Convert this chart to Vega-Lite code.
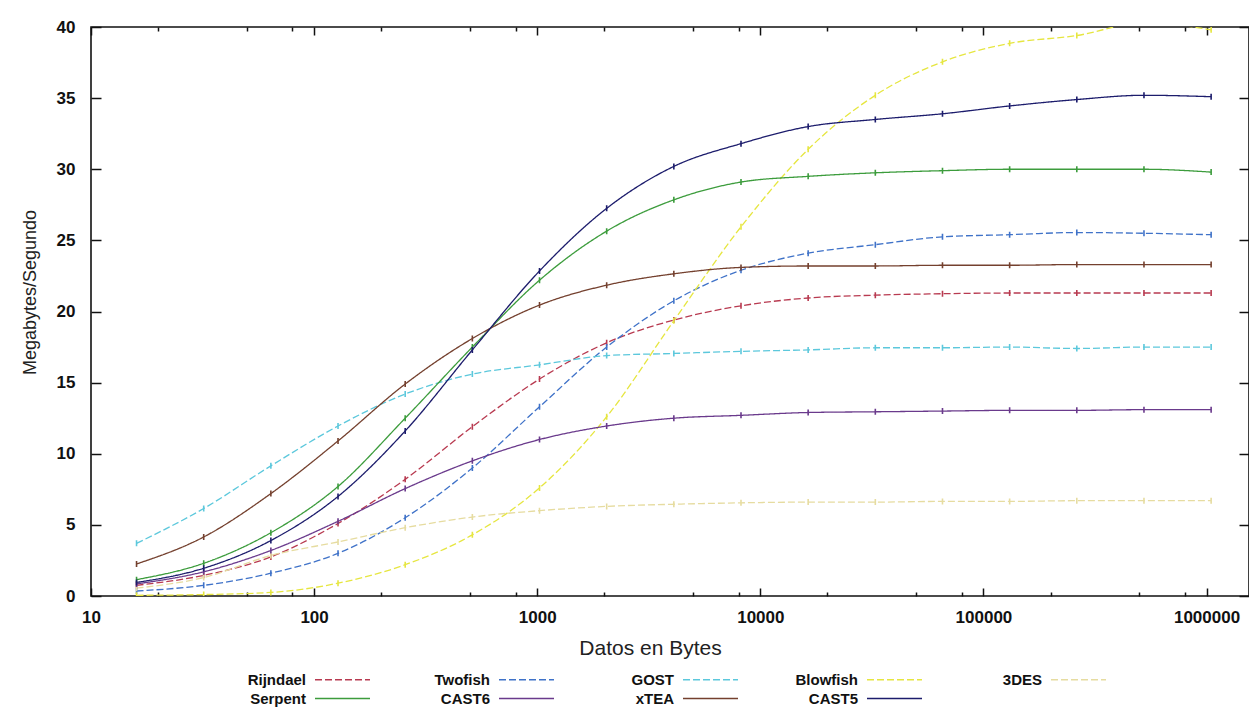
{
  "$schema": "https://vega.github.io/schema/vega-lite/v6.json",
  "width": 1158,
  "height": 569,
  "autosize": "none",
  "padding": {"left": 91, "top": 27, "right": 0, "bottom": 112},
  "background": "white",
  "config": {
    "view": {"stroke": "#111", "strokeWidth": 1.6},
    "font": "Liberation Sans, Arial, sans-serif"
  },
  "datasets": {
    "rows": [
      {"alg":"Rijndael","bytes":16,"mbs":0.75},{"alg":"Rijndael","bytes":32,"mbs":1.45},{"alg":"Rijndael","bytes":64,"mbs":2.75},{"alg":"Rijndael","bytes":128,"mbs":5.1},{"alg":"Rijndael","bytes":256,"mbs":8.2},{"alg":"Rijndael","bytes":512,"mbs":11.9},{"alg":"Rijndael","bytes":1024,"mbs":15.25},{"alg":"Rijndael","bytes":2048,"mbs":17.8},{"alg":"Rijndael","bytes":4096,"mbs":19.4},{"alg":"Rijndael","bytes":8192,"mbs":20.4},{"alg":"Rijndael","bytes":16384,"mbs":20.95},{"alg":"Rijndael","bytes":32768,"mbs":21.15},{"alg":"Rijndael","bytes":65536,"mbs":21.25},{"alg":"Rijndael","bytes":131072,"mbs":21.3},{"alg":"Rijndael","bytes":262144,"mbs":21.3},{"alg":"Rijndael","bytes":524288,"mbs":21.3},{"alg":"Rijndael","bytes":1048576,"mbs":21.3},
      {"alg":"Twofish","bytes":16,"mbs":0.35},{"alg":"Twofish","bytes":32,"mbs":0.75},{"alg":"Twofish","bytes":64,"mbs":1.6},{"alg":"Twofish","bytes":128,"mbs":3.0},{"alg":"Twofish","bytes":256,"mbs":5.5},{"alg":"Twofish","bytes":512,"mbs":9.0},{"alg":"Twofish","bytes":1024,"mbs":13.3},{"alg":"Twofish","bytes":2048,"mbs":17.5},{"alg":"Twofish","bytes":4096,"mbs":20.75},{"alg":"Twofish","bytes":8192,"mbs":22.9},{"alg":"Twofish","bytes":16384,"mbs":24.1},{"alg":"Twofish","bytes":32768,"mbs":24.7},{"alg":"Twofish","bytes":65536,"mbs":25.25},{"alg":"Twofish","bytes":131072,"mbs":25.4},{"alg":"Twofish","bytes":262144,"mbs":25.55},{"alg":"Twofish","bytes":524288,"mbs":25.5},{"alg":"Twofish","bytes":1048576,"mbs":25.4},
      {"alg":"GOST","bytes":16,"mbs":3.7},{"alg":"GOST","bytes":32,"mbs":6.15},{"alg":"GOST","bytes":64,"mbs":9.15},{"alg":"GOST","bytes":128,"mbs":11.95},{"alg":"GOST","bytes":256,"mbs":14.2},{"alg":"GOST","bytes":512,"mbs":15.6},{"alg":"GOST","bytes":1024,"mbs":16.25},{"alg":"GOST","bytes":2048,"mbs":16.9},{"alg":"GOST","bytes":4096,"mbs":17.05},{"alg":"GOST","bytes":8192,"mbs":17.2},{"alg":"GOST","bytes":16384,"mbs":17.3},{"alg":"GOST","bytes":32768,"mbs":17.45},{"alg":"GOST","bytes":65536,"mbs":17.45},{"alg":"GOST","bytes":131072,"mbs":17.5},{"alg":"GOST","bytes":262144,"mbs":17.4},{"alg":"GOST","bytes":524288,"mbs":17.5},{"alg":"GOST","bytes":1048576,"mbs":17.5},
      {"alg":"Blowfish","bytes":16,"mbs":0.05},{"alg":"Blowfish","bytes":32,"mbs":0.1},{"alg":"Blowfish","bytes":64,"mbs":0.25},{"alg":"Blowfish","bytes":128,"mbs":0.9},{"alg":"Blowfish","bytes":256,"mbs":2.2},{"alg":"Blowfish","bytes":512,"mbs":4.3},{"alg":"Blowfish","bytes":1024,"mbs":7.6},{"alg":"Blowfish","bytes":2048,"mbs":12.6},{"alg":"Blowfish","bytes":4096,"mbs":19.35},{"alg":"Blowfish","bytes":8192,"mbs":25.95},{"alg":"Blowfish","bytes":16384,"mbs":31.4},{"alg":"Blowfish","bytes":32768,"mbs":35.2},{"alg":"Blowfish","bytes":65536,"mbs":37.55},{"alg":"Blowfish","bytes":131072,"mbs":38.85},{"alg":"Blowfish","bytes":262144,"mbs":39.4},{"alg":"Blowfish","bytes":524288,"mbs":40.3},{"alg":"Blowfish","bytes":1048576,"mbs":39.8},
      {"alg":"3DES","bytes":16,"mbs":0.55},{"alg":"3DES","bytes":32,"mbs":1.3},{"alg":"3DES","bytes":64,"mbs":2.85},{"alg":"3DES","bytes":128,"mbs":3.8},{"alg":"3DES","bytes":256,"mbs":4.8},{"alg":"3DES","bytes":512,"mbs":5.55},{"alg":"3DES","bytes":1024,"mbs":6.0},{"alg":"3DES","bytes":2048,"mbs":6.3},{"alg":"3DES","bytes":4096,"mbs":6.45},{"alg":"3DES","bytes":8192,"mbs":6.55},{"alg":"3DES","bytes":16384,"mbs":6.6},{"alg":"3DES","bytes":32768,"mbs":6.6},{"alg":"3DES","bytes":65536,"mbs":6.65},{"alg":"3DES","bytes":131072,"mbs":6.65},{"alg":"3DES","bytes":262144,"mbs":6.7},{"alg":"3DES","bytes":524288,"mbs":6.7},{"alg":"3DES","bytes":1048576,"mbs":6.7},
      {"alg":"Serpent","bytes":16,"mbs":1.15},{"alg":"Serpent","bytes":32,"mbs":2.3},{"alg":"Serpent","bytes":64,"mbs":4.45},{"alg":"Serpent","bytes":128,"mbs":7.7},{"alg":"Serpent","bytes":256,"mbs":12.5},{"alg":"Serpent","bytes":512,"mbs":17.5},{"alg":"Serpent","bytes":1024,"mbs":22.2},{"alg":"Serpent","bytes":2048,"mbs":25.65},{"alg":"Serpent","bytes":4096,"mbs":27.85},{"alg":"Serpent","bytes":8192,"mbs":29.1},{"alg":"Serpent","bytes":16384,"mbs":29.5},{"alg":"Serpent","bytes":32768,"mbs":29.75},{"alg":"Serpent","bytes":65536,"mbs":29.9},{"alg":"Serpent","bytes":131072,"mbs":30.0},{"alg":"Serpent","bytes":262144,"mbs":30.0},{"alg":"Serpent","bytes":524288,"mbs":30.0},{"alg":"Serpent","bytes":1048576,"mbs":29.8},
      {"alg":"CAST6","bytes":16,"mbs":0.85},{"alg":"CAST6","bytes":32,"mbs":1.7},{"alg":"CAST6","bytes":64,"mbs":3.2},{"alg":"CAST6","bytes":128,"mbs":5.25},{"alg":"CAST6","bytes":256,"mbs":7.55},{"alg":"CAST6","bytes":512,"mbs":9.5},{"alg":"CAST6","bytes":1024,"mbs":11.0},{"alg":"CAST6","bytes":2048,"mbs":11.95},{"alg":"CAST6","bytes":4096,"mbs":12.5},{"alg":"CAST6","bytes":8192,"mbs":12.7},{"alg":"CAST6","bytes":16384,"mbs":12.9},{"alg":"CAST6","bytes":32768,"mbs":12.95},{"alg":"CAST6","bytes":65536,"mbs":13.0},{"alg":"CAST6","bytes":131072,"mbs":13.05},{"alg":"CAST6","bytes":262144,"mbs":13.05},{"alg":"CAST6","bytes":524288,"mbs":13.1},{"alg":"CAST6","bytes":1048576,"mbs":13.1},
      {"alg":"xTEA","bytes":16,"mbs":2.25},{"alg":"xTEA","bytes":32,"mbs":4.15},{"alg":"xTEA","bytes":64,"mbs":7.2},{"alg":"xTEA","bytes":128,"mbs":10.9},{"alg":"xTEA","bytes":256,"mbs":14.9},{"alg":"xTEA","bytes":512,"mbs":18.1},{"alg":"xTEA","bytes":1024,"mbs":20.45},{"alg":"xTEA","bytes":2048,"mbs":21.85},{"alg":"xTEA","bytes":4096,"mbs":22.65},{"alg":"xTEA","bytes":8192,"mbs":23.1},{"alg":"xTEA","bytes":16384,"mbs":23.2},{"alg":"xTEA","bytes":32768,"mbs":23.2},{"alg":"xTEA","bytes":65536,"mbs":23.25},{"alg":"xTEA","bytes":131072,"mbs":23.25},{"alg":"xTEA","bytes":262144,"mbs":23.3},{"alg":"xTEA","bytes":524288,"mbs":23.3},{"alg":"xTEA","bytes":1048576,"mbs":23.3},
      {"alg":"CAST5","bytes":16,"mbs":0.95},{"alg":"CAST5","bytes":32,"mbs":1.95},{"alg":"CAST5","bytes":64,"mbs":3.9},{"alg":"CAST5","bytes":128,"mbs":7.0},{"alg":"CAST5","bytes":256,"mbs":11.6},{"alg":"CAST5","bytes":512,"mbs":17.3},{"alg":"CAST5","bytes":1024,"mbs":22.85},{"alg":"CAST5","bytes":2048,"mbs":27.25},{"alg":"CAST5","bytes":4096,"mbs":30.2},{"alg":"CAST5","bytes":8192,"mbs":31.8},{"alg":"CAST5","bytes":16384,"mbs":33.0},{"alg":"CAST5","bytes":32768,"mbs":33.5},{"alg":"CAST5","bytes":65536,"mbs":33.9},{"alg":"CAST5","bytes":131072,"mbs":34.45},{"alg":"CAST5","bytes":262144,"mbs":34.9},{"alg":"CAST5","bytes":524288,"mbs":35.2},{"alg":"CAST5","bytes":1048576,"mbs":35.1}
    ]
  },
  "data": {"name": "rows"},
  "encoding": {
    "color": {
      "field": "alg",
      "type": "nominal",
      "scale": {
        "domain": ["Rijndael","Twofish","GOST","Blowfish","3DES","Serpent","CAST6","xTEA","CAST5"],
        "range": ["#b83a50","#3f72c8","#5cc8dc","#e6e640","#e6dca0","#3c9c3c","#6a3a8c","#74402e","#1c1c6c"]
      },
      "legend": {
        "orient": "none",
        "direction": "horizontal",
        "legendX": 244,
        "legendY": 645,
        "columns": 5,
        "gridAlign": "all",
        "title": null,
        "symbolType": "M-5,0H5",
        "symbolSize": 121,
        "symbolStrokeWidth": 1.4,
        "labelFont": "Liberation Sans, Arial, sans-serif",
        "labelFontSize": 15,
        "labelFontWeight": "bold",
        "labelColor": "#111",
        "columnPadding": 54,
        "rowPadding": 3,
        "encode": {
          "labels": {"update": {"x": {"value": -29}, "align": {"value": "right"}}}
        }
      }
    },
    "strokeDash": {
      "field": "alg",
      "type": "nominal",
      "scale": {
        "domain": ["Rijndael","Twofish","GOST","Blowfish","3DES","Serpent","CAST6","xTEA","CAST5"],
        "range": [[7,3],[7,3],[7,3],[7,3],[7,3],[1,0],[1,0],[1,0],[1,0]]
      }
    }
  },
  "layer": [
    {
      "mark": {"type": "line", "interpolate": "monotone", "strokeWidth": 1.3, "clip": true},
      "encoding": {
        "x": {
          "field": "bytes",
          "type": "quantitative",
          "scale": {"type": "log", "domain": [10, 1550000], "nice": false},
          "axis": {
            "orient": "bottom",
            "values": [10,20,50,80,100,200,500,800,1000,2000,5000,8000,10000,20000,50000,80000,100000,200000,500000,800000,1000000],
            "labelExpr": "indexof([10,100,1000,10000,100000,1000000], datum.value) >= 0 ? format(datum.value, 'd') : ''",
            "tickSize": {"condition": {"test": "indexof([10,100,1000,10000,100000,1000000], datum.value) >= 0", "value": -8}, "value": -4},
            "tickColor": "#111",
            "tickWidth": 1.5,
            "domain": false,
            "grid": false,
            "labelFlush": false,
            "labelOverlap": false,
            "labelFont": "Liberation Sans, Arial, sans-serif",
            "labelFontSize": 17,
            "labelFontWeight": "bold",
            "labelColor": "#111",
            "labelPadding": 21,
            "title": "Datos en Bytes",
            "titleFont": "Liberation Sans, Arial, sans-serif",
            "titleFontSize": 21,
            "titleFontWeight": "normal",
            "titleColor": "#222",
            "titleX": 559,
            "titleY": 41
          }
        },
        "y": {
          "field": "mbs",
          "type": "quantitative",
          "scale": {"domain": [0, 40], "nice": false},
          "axis": {
            "orient": "left",
            "values": [0,5,10,15,20,25,30,35,40],
            "tickSize": -10,
            "tickColor": "#111",
            "tickWidth": 1.5,
            "domain": false,
            "grid": false,
            "labelFont": "Liberation Sans, Arial, sans-serif",
            "labelFontSize": 17,
            "labelFontWeight": "bold",
            "labelColor": "#111",
            "labelPadding": 26,
            "title": "Megabytes/Segundo",
            "titleFont": "Liberation Sans, Arial, sans-serif",
            "titleFontSize": 18,
            "titleFontWeight": "normal",
            "titleColor": "#222",
            "titleX": -52,
            "titleY": 265
          }
        }
      }
    },
    {
      "mark": {"type": "point", "shape": "M0,-1L0,1", "filled": false, "size": 36, "strokeWidth": 1.6, "clip": true, "opacity": 1},
      "encoding": {
        "x": {
          "field": "bytes",
          "type": "quantitative",
          "axis": {
            "orient": "top",
            "values": [10,20,50,80,100,200,500,800,1000,2000,5000,8000,10000,20000,50000,80000,100000,200000,500000,800000,1000000],
            "labels": false,
            "tickSize": {"condition": {"test": "indexof([10,100,1000,10000,100000,1000000], datum.value) >= 0", "value": -8}, "value": -4},
            "tickColor": "#111",
            "tickWidth": 1.5,
            "domain": false,
            "grid": false,
            "title": null
          }
        },
        "y": {
          "field": "mbs",
          "type": "quantitative",
          "axis": {
            "orient": "right",
            "values": [0,5,10,15,20,25,30,35,40],
            "labels": false,
            "tickSize": -10,
            "tickColor": "#111",
            "tickWidth": 1.5,
            "domain": false,
            "grid": false,
            "title": null
          }
        },
        "strokeDash": {"value": [1, 0]}
      }
    }
  ],
  "resolve": {"axis": {"x": "independent", "y": "independent"}}
}
